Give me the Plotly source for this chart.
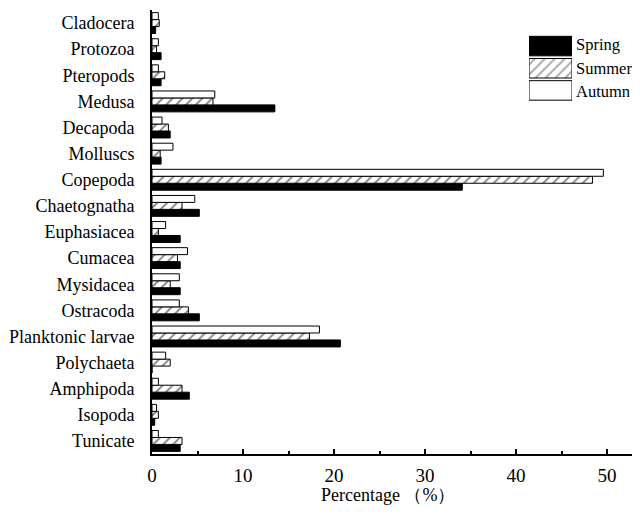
import plotly.graph_objects as go

categories = ["Cladocera", "Protozoa", "Pteropods", "Medusa", "Decapoda", "Molluscs",
              "Copepoda", "Chaetognatha", "Euphasiacea", "Cumacea", "Mysidacea",
              "Ostracoda", "Planktonic larvae", "Polychaeta", "Amphipoda", "Isopoda", "Tunicate"]
spring = [0.4, 1.0, 1.0, 13.5, 2.0, 1.0, 34.1, 5.2, 3.1, 3.1, 3.1, 5.2, 20.7, 0.0, 4.1, 0.3, 3.1]
summer = [0.8, 0.5, 1.4, 6.7, 1.8, 0.9, 48.4, 3.3, 0.7, 2.8, 2.0, 4.0, 17.3, 2.0, 3.3, 0.7, 3.3]
autumn = [0.7, 0.7, 0.7, 6.9, 1.1, 2.3, 49.6, 4.7, 1.5, 3.9, 3.0, 3.0, 18.4, 1.5, 0.7, 0.5, 0.7]
series_names = ["Spring", "Summer", "Autumn"]
x_ticks = [0, 10, 20, 30, 40, 50]

FONT = "Liberation Serif, Times New Roman, serif"

fig = go.Figure()
fig.add_trace(go.Bar(y=categories, x=spring, orientation="h", name="Spring",
                     marker=dict(color="black", line=dict(color="black", width=1)),
                     showlegend=False))
fig.add_trace(go.Bar(y=categories, x=summer, orientation="h", name="Summer",
                     marker=dict(color="white", line=dict(color="black", width=1),
                                 pattern=dict(shape="/", fgcolor="black", bgcolor="white",
                                              size=7, solidity=0.25)),
                     showlegend=False))
fig.add_trace(go.Bar(y=categories, x=autumn, orientation="h", name="Autumn",
                     marker=dict(color="white", line=dict(color="black", width=1)),
                     showlegend=False))

# custom legend swatches on a hidden overlay axis
fig.add_trace(go.Bar(y=[0, 1, 2], x=[1, 1, 1], orientation="h", width=0.88,
                     xaxis="x2", yaxis="y2", showlegend=False, hoverinfo="skip",
                     marker=dict(color=["black", "white", "white"],
                                 line=dict(color="black", width=1),
                                 pattern=dict(shape=["", "/", ""], fgcolor="black",
                                              bgcolor="white", size=7, solidity=0.25))))

OFF = 8  # page body margin
FW, FH = 640 - 2 * OFF, 515 - 2 * OFF
L, R, T = 152 - OFF, 0, 10 - OFF
B = FH - T - 444
W, H = FW - L - R, FH - T - B
XMAX = W / 9.1

def py(px):
    return 1 - (px - OFF - T) / H

def pxx(px):
    return (px - OFF - L) / W

for i, nm in enumerate(series_names):
    fig.add_annotation(text=nm, x=pxx(574), y=py(45 + i * 23), xref="paper", yref="paper",
                       xanchor="left", yanchor="middle", showarrow=False,
                       font=dict(family=FONT, size=16.5, color="black"))

fig.add_annotation(text="Percentage （%）", x=pxx(388), y=py(507), xref="paper", yref="paper",
                   xanchor="center", yanchor="bottom", showarrow=False,
                   font=dict(family=FONT, size=18, color="black"))

fig.update_layout(
    width=FW, height=FH,
    margin=dict(l=L, r=R, t=T, b=B, autoexpand=False),
    paper_bgcolor="white", plot_bgcolor="white",
    barmode="group", bargap=0.2, bargroupgap=0,
    font=dict(family=FONT, size=18, color="black"),
    xaxis=dict(range=[0, XMAX], tickvals=x_ticks, ticks="inside", ticklen=5, tickwidth=1.5,
               tickcolor="black", showline=True, linecolor="black", linewidth=2,
               showgrid=False, zeroline=False, ticklabelstandoff=3, automargin=False,
               minor=dict(dtick=5, ticks="inside", ticklen=3, tickcolor="black", tickwidth=1.5),
               tickfont=dict(family=FONT, size=19)),
    yaxis=dict(categoryorder="array", categoryarray=list(reversed(categories)),
               range=[-0.5, len(categories) - 0.5], automargin=False,
               showline=True, linecolor="black", linewidth=2, ticks="",
               showgrid=False, zeroline=False, ticklabelstandoff=12,
               tickfont=dict(family=FONT, size=18)),
    xaxis2=dict(domain=[pxx(529), pxx(572)], range=[0, 1], visible=False, anchor="y2"),
    yaxis2=dict(domain=[py(101.5), py(35)], range=[2.5, -0.5], visible=False, anchor="x2"),
)

fig.write_html("out.html")
